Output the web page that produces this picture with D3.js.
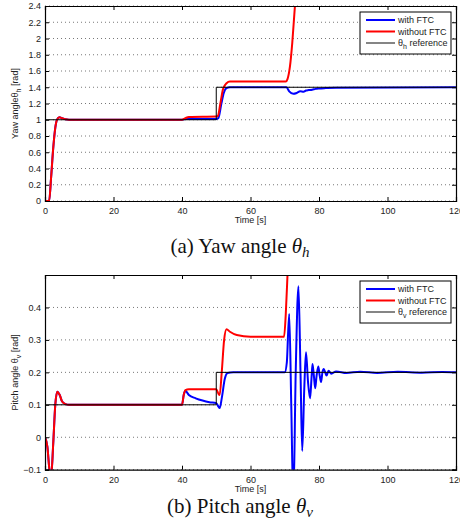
<!DOCTYPE html>
<html>
<head>
  <title>yaw and pitch angle with and without FTC</title>
  <script src="https://cdn.jsdelivr.net/npm/d3@7"></script>
  <style>
    body { margin: 0; background: #fff; }
    text { font-family: "Liberation Sans", Arial, sans-serif; }
    .caption { font-family: "Liberation Serif", "Times New Roman", serif; }
  </style>
</head>
<body>
<script>
  // ---- data ----
  var xTicks = [0, 20, 40, 60, 80, 100, 120];

  // (a) yaw angle
  var yawTicks = [0, 0.2, 0.4, 0.6, 0.8, 1, 1.2, 1.4, 1.6, 1.8, 2, 2.2, 2.4];
  var yawFtcT  = [0, 1.2, 1.8, 2.4, 3.0, 3.5, 4.2, 5, 6, 7, 40, 41, 43, 50, 50.6, 51.5, 52.2, 53, 54, 56, 70.5, 71.3, 72.5, 73.5, 74.5, 75.5, 76.2, 77, 78, 79, 80, 82, 85, 120];
  var yawFtcV  = [0, 0, 0.3, 0.65, 0.9, 1.0, 1.03, 1.02, 1.005, 1, 1, 1.01, 1.01, 1.01, 1.02, 1.2, 1.33, 1.39, 1.4, 1.4, 1.4, 1.35, 1.32, 1.33, 1.35, 1.345, 1.36, 1.365, 1.37, 1.38, 1.385, 1.39, 1.395, 1.4];
  var yawNoT   = [0, 1.2, 1.8, 2.4, 3.0, 3.5, 4.2, 5, 6, 7, 40, 41, 42, 50, 50.5, 51.2, 52, 53, 54, 56, 70.3, 70.8, 71.5, 72.2, 72.8, 73.5];
  var yawNoV   = [0, 0, 0.3, 0.65, 0.9, 1.0, 1.03, 1.02, 1.005, 1, 1, 1.02, 1.035, 1.04, 1.05, 1.2, 1.38, 1.45, 1.47, 1.47, 1.47, 1.5, 1.65, 1.95, 2.3, 2.7];
  var yawRefT  = [0, 50, 50, 120];
  var yawRefV  = [1, 1, 1.4, 1.4];

  // (b) pitch angle
  var pitchTicks = [-0.1, 0, 0.1, 0.2, 0.3, 0.4];
  var pitchFtcT  = [0, 0.7, 1.3, 1.8, 2.4, 3.0, 3.6, 4.3, 5, 6, 7, 40, 40.5, 41, 42, 44, 46, 48, 50, 50.6, 51, 51.6, 52.5, 53.3, 55, 70, 70.6, 71.3, 71.9, 72.5, 73.2, 74, 74.6, 75.1, 75.7, 76.2, 76.8, 77.4, 77.8, 78.1, 78.5, 78.9, 79.3, 79.8, 80.2, 80.6, 81.0, 81.4, 81.8, 82.2, 82.8, 83.6, 85, 88, 92, 97, 103, 110, 116, 120];
  var pitchFtcV  = [0, -0.03, -0.1, -0.12, -0.02, 0.1, 0.14, 0.13, 0.11, 0.102, 0.1, 0.1, 0.13, 0.143, 0.13, 0.12, 0.113, 0.108, 0.105, 0.095, 0.09, 0.12, 0.18, 0.198, 0.2, 0.2, 0.23, 0.38, 0.1, -0.2, 0.2, 0.465, 0.2, -0.042, 0.15, 0.262, 0.17, 0.12, 0.18, 0.226, 0.19, 0.151, 0.19, 0.218, 0.19, 0.17, 0.2, 0.21, 0.2, 0.19, 0.205, 0.196, 0.203, 0.198, 0.202, 0.198, 0.202, 0.199, 0.201, 0.2];
  var pitchNoT   = [0, 0.7, 1.3, 1.8, 2.4, 3.0, 3.6, 4.3, 5, 6, 7, 40, 40.5, 41, 42, 50, 50.6, 51, 51.6, 52.3, 53, 54, 56, 60, 69.8, 70.3, 70.8, 71.2];
  var pitchNoV   = [0, -0.03, -0.1, -0.12, -0.02, 0.1, 0.14, 0.13, 0.11, 0.102, 0.1, 0.1, 0.13, 0.145, 0.148, 0.148, 0.135, 0.13, 0.2, 0.3, 0.333, 0.325, 0.315, 0.31, 0.31, 0.38, 0.5, 0.6];
  var pitchRefT  = [0, 50, 50, 120];
  var pitchRefV  = [0.1, 0.1, 0.2, 0.2];

  var legendNames = ["with FTC", "without FTC", "reference"];

  var svg = d3.select("body").append("svg")
      .attr("width", 460).attr("height", 527);

  function zip(t, v) { return t.map(function (d, i) { return [d, v[i]]; }); }

  function panel(o) {
    var x = d3.scaleLinear().domain([0, 120]).range([45, 456]);
    var y = d3.scaleLinear().domain(o.yDomain).range([o.bottom, o.top]);
    var g = svg.append("g");

    g.append("clipPath").attr("id", o.id)
      .append("rect").attr("x", 45).attr("y", o.top)
      .attr("width", 411).attr("height", o.bottom - o.top);

    // horizontal dotted grid
    g.selectAll(".grid").data(o.yTicks).enter().append("line")
      .attr("x1", x(0)).attr("x2", x(120))
      .attr("y1", function (d) { return y(d); }).attr("y2", function (d) { return y(d); })
      .attr("stroke", "#555").attr("stroke-width", 0.8)
      .attr("stroke-dasharray", "1,3");

    var line = d3.line().x(function (d) { return x(d[0]); }).y(function (d) { return y(d[1]); });
    var smooth = d3.line().curve(d3.curveMonotoneX)
      .x(function (d) { return x(d[0]); }).y(function (d) { return y(d[1]); });

    var plot = g.append("g").attr("clip-path", "url(#" + o.id + ")");
    plot.append("path").datum(zip(o.ftcT, o.ftcV)).attr("d", smooth)
      .attr("fill", "none").attr("stroke", "#0000ff").attr("stroke-width", 2);
    plot.append("path").datum(zip(o.noT, o.noV)).attr("d", smooth)
      .attr("fill", "none").attr("stroke", "#ff0000").attr("stroke-width", 2);
    plot.append("path").datum(zip(o.refT, o.refV)).attr("d", line)
      .attr("fill", "none").attr("stroke", "#000").attr("stroke-width", 1);

    // axes with inward ticks on all four sides
    var fmt = function (d) { return d3.format("")(+d.toFixed(1)); };
    var axB = g.append("g").attr("transform", "translate(0," + o.bottom + ")")
      .call(d3.axisBottom(x).tickValues(xTicks).tickSize(-4).tickPadding(7));
    var axT = g.append("g").attr("transform", "translate(0," + o.top + ")")
      .call(d3.axisTop(x).tickValues(xTicks).tickSize(-4).tickFormat(""));
    var axL = g.append("g").attr("transform", "translate(45,0)")
      .call(d3.axisLeft(y).tickValues(o.yTicks).tickSize(-4).tickPadding(4).tickFormat(fmt));
    var axR = g.append("g").attr("transform", "translate(456,0)")
      .call(d3.axisRight(y).tickValues(o.yTicks).tickSize(-4).tickFormat(""));
    [axB, axT, axL, axR].forEach(function (a) {
      a.select(".domain").attr("stroke", "#000").attr("stroke-width", 1.2);
      a.selectAll(".tick line").attr("stroke", "#000");
      a.selectAll("text").attr("font-size", 9).attr("fill", "#222")
        .attr("font-family", "Liberation Sans, Arial, sans-serif");
    });

    g.append("text").attr("x", 250.5).attr("y", o.bottom + 22)
      .attr("text-anchor", "middle").attr("font-size", 9).attr("fill", "#222")
      .text("Time [s]");

    var yl = g.append("text")
      .attr("transform", "translate(18," + ((o.top + o.bottom) / 2) + ") rotate(-90)")
      .attr("text-anchor", "middle").attr("font-size", 9).attr("fill", "#222");
    yl.append("tspan").text(o.yLabel);
    yl.append("tspan").attr("font-size", 7).attr("dy", 3).text(o.sub);
    yl.append("tspan").attr("dy", -3).text(" [rad]");

    // legend
    var lg = g.append("g").attr("transform", "translate(360," + (o.top + 6) + ")");
    lg.append("rect").attr("width", 91).attr("height", 42)
      .attr("fill", "#fff").attr("stroke", "#000").attr("stroke-width", 1);
    var cols = ["#0000ff", "#ff0000", "#333"];
    var rows = [8, 19.5, 31];
    legendNames.forEach(function (n, i) {
      lg.append("line").attr("x1", 6).attr("x2", 35)
        .attr("y1", rows[i]).attr("y2", rows[i])
        .attr("stroke", cols[i]).attr("stroke-width", i < 2 ? 2 : 1.2);
      var t = lg.append("text").attr("x", 38).attr("y", rows[i] + 3.2)
        .attr("font-size", 9).attr("fill", "#222");
      if (i < 2) t.text(n);
      else {
        t.append("tspan").text("θ");
        t.append("tspan").attr("font-size", 7).attr("dy", 3).text(o.sub);
        t.append("tspan").attr("dy", -3).text(" " + n);
      }
    });

    // caption
    var c = svg.append("text").attr("class", "caption")
      .attr("x", 240).attr("y", o.capY).attr("text-anchor", "middle")
      .attr("font-size", 21).attr("fill", "#111");
    c.append("tspan").text(o.caption + " ");
    c.append("tspan").attr("font-style", "italic").text("θ");
    c.append("tspan").attr("font-style", "italic").attr("font-size", 15).attr("dy", 4).text(o.sub);
  }

  panel({
    id: "clipA", top: 6, bottom: 201, yDomain: [0, 2.4], yTicks: yawTicks,
    ftcT: yawFtcT, ftcV: yawFtcV, noT: yawNoT, noV: yawNoV, refT: yawRefT, refV: yawRefV,
    yLabel: "Yaw angleθ", sub: "h", caption: "(a) Yaw angle", capY: 253
  });
  panel({
    id: "clipB", top: 275, bottom: 469.7, yDomain: [-0.1, 0.5], yTicks: pitchTicks,
    ftcT: pitchFtcT, ftcV: pitchFtcV, noT: pitchNoT, noV: pitchNoV, refT: pitchRefT, refV: pitchRefV,
    yLabel: "Pitch angle θ", sub: "v", caption: "(b) Pitch angle", capY: 513
  });
</script>
</body>
</html>
